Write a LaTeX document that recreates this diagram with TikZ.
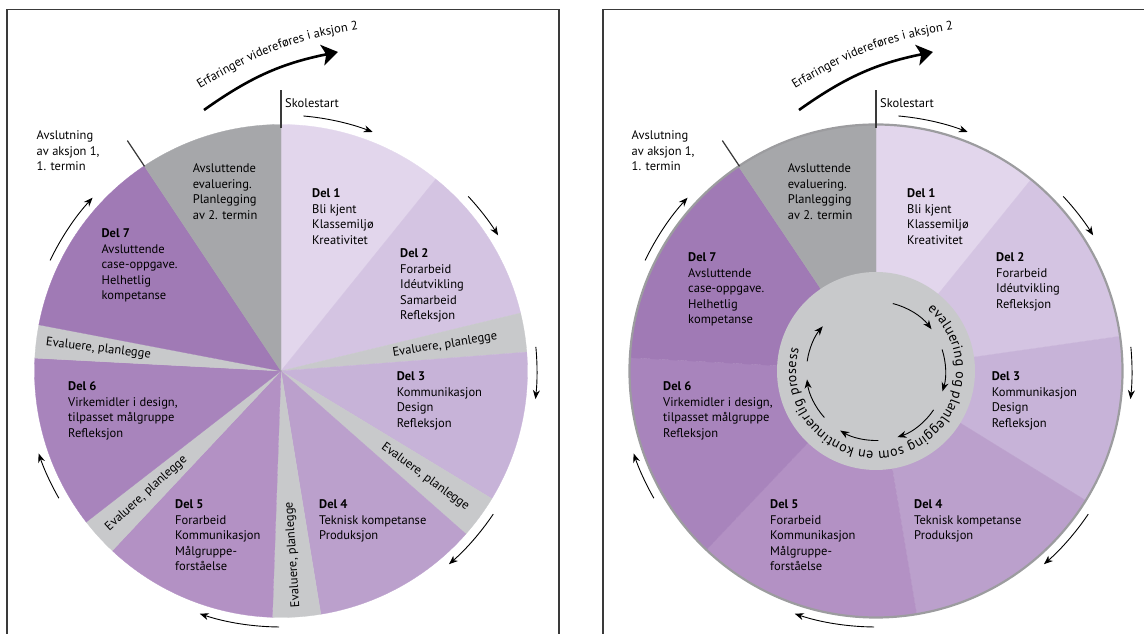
\documentclass[tikz,border=0pt]{standalone}
\usepackage{fontspec}
\setmainfont{PT Sans}
\usetikzlibrary{arrows.meta,decorations.text}
\definecolor{delA}{HTML}{E2D6EC}
\definecolor{delB}{HTML}{D4C4E2}
\definecolor{delC}{HTML}{C7B3D8}
\definecolor{delD}{HTML}{BBA0CC}
\definecolor{delE}{HTML}{B391C4}
\definecolor{delF}{HTML}{A884BC}
\definecolor{delG}{HTML}{A07AB5}
\definecolor{avslgray}{HTML}{A6A7AA}
\definecolor{evalgray}{HTML}{C8C9CB}
\definecolor{ringgray}{HTML}{9C9C9F}
\definecolor{framegray}{HTML}{3A3A3A}
\begin{document}
\begin{tikzpicture}[x=1pt,y=1pt,
  txt/.style={align=left,anchor=north west,inner sep=0pt,font=\fontsize{12.5}{15.5}\selectfont},
  evlbl/.style={inner sep=0pt,font=\fontsize{12.5}{15}\selectfont},
  flow/.style={line width=0.9pt,-{Stealth[length=9pt,width=7pt]}},
  bigflow/.style={line width=2.6pt,-{Stealth[length=16pt,width=21pt,inset=4pt]}},
  tick/.style={line width=1.3pt,framegray},
  frame/.style={line width=1.4pt,framegray}]
\useasboundingbox (0,0) rectangle (1144,634);
\draw[frame] (7,-5) -- (7,624.5) -- (559,624.5) -- (559,-5);
\draw[frame] (603,-5) -- (603,624.5) -- (1150,624.5);

\begin{scope}[shift={(281,263)}]
\foreach \a/\b/\col in {51.1/90/delA, 13.6/51.1/delB, 4.4/13.6/evalgray, -31.2/4.4/delC,
    -41.4/-31.2/evalgray, -80.7/-41.4/delD, -92/-80.7/evalgray, -133.2/-92/delE,
    -142.2/-133.2/evalgray, -183/-142.2/delF, -190.8/-183/evalgray, -236.3/-190.8/delG,
    90/123.7/avslgray}
  \filldraw[\col,line width=0.3pt] (0,0) -- (\a:246.5) arc[start angle=\a,end angle=\b,radius=246.5] -- cycle;
\node[txt] (del2l) at (119,122.5) {\textbf{Del 2}\\Forarbeid\\Idéutvikling\\Samarbeid\\Refleksjon};
\node[txt] (del7l) at (-179.6,142.5) {\textbf{Del 7}\\Avsluttende\\case-oppgave.\\Helhetlig\\kompetanse};
\foreach \a/\r/\rot [count=\i] in {9/166/9, -36.3/179/-36.3, -86.3/184/93.7, -137.7/182/42.3, 173.1/184/-6.9}
  \node[evlbl,rotate=\rot] (eval\i) at (\a:\r) {Evaluere, planlegge};
\end{scope}

\begin{scope}[shift={(876,263)}]
\foreach \a/\b/\col in {51/90/delA, 8.1/51/delB, -31.7/8.1/delC, -80.5/-31.7/delD,
    -133.5/-80.5/delE, -183.1/-133.5/delF, -236.1/-183.1/delG, 90/123.9/avslgray}
  \filldraw[\col,line width=0.3pt] (0,0) -- (\a:246.5) arc[start angle=\a,end angle=\b,radius=246.5] -- cycle;
\draw[ringgray,line width=2.2pt] (0,0) circle[radius=246.5];
\fill[evalgray] (0,0) circle[radius=99];
\foreach \a/\b in {76/37, 18/-17, -34/-72, -88/-121, -138/-173, 172/140}
  \draw[flow] (\a:69.5) arc[start angle=\a,end angle=\b,radius=69.5];
\path[decorate,decoration={text along path,text align=fit to path,
    text={|\fontsize{14}{14}\selectfont|evaluering og planlegging som en kontinuerlig prosess}}]
  (50:80) arc[start angle=50,end angle=-196,radius=80];
\node[txt] (del2r) at (120,118.5) {\textbf{Del 2}\\Forarbeid\\Idéutvikling\\Refleksjon};
\node[txt] (del7r) at (-188,118.5) {\textbf{Del 7}\\Avsluttende\\case-oppgave.\\Helhetlig\\kompetanse};
\end{scope}

\foreach \s/\cx in {l/281,r/876}{
\begin{scope}[shift={(\cx,263)}]
\draw[tick] (90:243) -- (90:281);
\draw[tick] (123.7:246) -- (123.7:277);
\foreach \a/\b in {85/69, 43/32, 5.4/-6.3, -34/-49, -90.4/-108.5, -150.2/-161.2, 154.4/137.4}
  \draw[flow] (\a:256) arc[start angle=\a,end angle=\b,radius=256];
\coordinate (erfa\s) at (-77,261);
\coordinate (erfb\s) at (57,319);
\draw[bigflow] (erfa\s) to[bend left=12] (erfb\s);
\path[decorate,decoration={text along path,text align=left,
    text={|\fontsize{12.5}{12.5}\selectfont|Erfaringer videreføres i aksjon 2}}]
  (-81,282) to[bend left=12] (90,343);
\node[txt] (skole\s) at (4,272.5) {Skolestart};
\node[txt] (slutt\s) at (-244.5,240.5) {Avslutning\\av aksjon 1,\\1. termin};
\node[txt] (avsl\s) at (-88.4,207.5) {Avsluttende\\evaluering.\\Planlegging\\av 2. termin};
\node[txt] (del1\s) at (31,182.5) {\textbf{Del 1}\\Bli kjent\\Klassemiljø\\Kreativitet};
\node[txt] (del3\s) at (115.6,-0.5) {\textbf{Del 3}\\Kommunikasjon\\Design\\Refleksjon};
\node[txt] (del4\s) at (38,-128.5) {\textbf{Del 4}\\Teknisk kompetanse\\Produksjon};
\node[txt] (del5\s) at (-106,-128.5) {\textbf{Del 5}\\Forarbeid\\Kommunikasjon\\Målgruppe-\\forståelse};
\node[txt] (del6\s) at (-213,-10.5) {\textbf{Del 6}\\Virkemidler i design,\\tilpasset målgruppe\\Refleksjon};
\end{scope}}
\end{tikzpicture}
\end{document}
